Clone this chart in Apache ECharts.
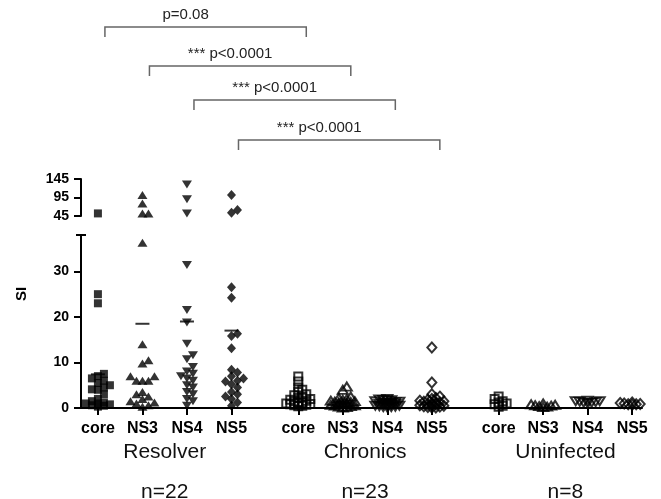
<!DOCTYPE html>
<html>
<head>
<meta charset="utf-8">
<script src="https://cdn.jsdelivr.net/npm/echarts@6/dist/echarts.min.js"></script>
<style>
html, body { margin: 0; background: #fff; }
#main { width: 661px; height: 499px; }
</style>
</head>
<body>
<div id="main"></div>
<script>
// categories and labels
const columns = ['core', 'NS3', 'NS4', 'NS5'];
const groups = ['Resolver', 'Chronics', 'Uninfected'];
const groupN = ['n=22', 'n=23', 'n=8'];
const yTicksLower = [0, 10, 20, 30];
const yTicksUpper = [45, 95, 145];

// SI values, one array per column
const resolverCore = [52, 25, 23, 4.1, 7.5, 7, 6.5, 6, 5.5, 5, 4.5, 4, 3, 2, 1.5, 1.2, 1, 1, 0.8, 0.6, 0.5, 0.3];
const resolverNS3 = [52, 52, 102, 79, 36.3, 14, 10.5, 9.8, 7, 7, 6, 6, 6, 3.5, 3, 2.5, 2, 1.5, 1.2, 1, 0.6, 0.3];
const resolverNS4 = [130, 90, 52, 31.4, 21.5, 18.8, 14.1, 11.6, 10.7, 9, 8, 7.5, 7, 6.5, 6, 5, 4.5, 3.5, 3, 2, 1.5, 0.5];
const resolverNS5 = [61, 54, 102, 26.5, 24.2, 16.3, 15.8, 13.1, 8.4, 7.8, 7, 6.5, 6, 5.8, 5.2, 4.5, 3.5, 3, 2.5, 2, 1.2, 0.5];
const chronicCore = [6.9, 5.8, 4.5, 4, 3.5, 3, 2.8, 2.5, 2.2, 2, 1.8, 1.6, 1.5, 1.3, 1.2, 1.1, 1, 0.9, 0.8, 0.7, 0.6, 0.5, 0.4];
const chronicNS3 = [4.7, 4.0, 2.5, 2.2, 2, 1.8, 1.6, 1.5, 1.4, 1.3, 1.2, 1.1, 1, 1, 0.9, 0.8, 0.7, 0.6, 0.5, 0.4, 0.3, 0.2, 0.1];
const chronicNS4 = [2, 1.9, 1.8, 1.7, 1.6, 1.5, 1.4, 1.3, 1.2, 1.1, 1, 1, 0.9, 0.8, 0.7, 0.6, 0.5, 0.5, 0.4, 0.3, 0.2, 0.2, 0.1];
const chronicNS5 = [13.3, 5.6, 3, 2.5, 2.2, 2, 1.8, 1.6, 1.5, 1.4, 1.2, 1.1, 1, 0.9, 0.8, 0.7, 0.6, 0.5, 0.4, 0.3, 0.2, 0.1, 0.1];
const uninfCore = [2.5, 2.0, 1.5, 1.2, 1.0, 0.8, 0.5, 0.3];
const uninfNS3 = [1.0, 0.8, 0.7, 0.6, 0.5, 0.4, 0.3, 0.2];
const uninfNS4 = [1.6, 1.5, 1.5, 1.4, 1.3, 1.2, 1.2, 1.0];
const uninfNS5 = [1.2, 1.1, 1.0, 1.0, 0.9, 0.8, 0.8, 0.7];
const resolverMeans = [7.4, 18.5, 19, 17];
const pLabels = ['p=0.08', '*** p<0.0001', '*** p<0.0001', '*** p<0.0001'];

const allColumns = [resolverCore, resolverNS3, resolverNS4, resolverNS5,
  chronicCore, chronicNS3, chronicNS4, chronicNS5,
  uninfCore, uninfNS3, uninfNS4, uninfNS5];

// layout
const colX = [1, 2, 3, 4, 5.5, 6.5, 7.5, 8.5, 10, 11, 12, 13];
const groupX = [2.5, 7, 11.5];
const LOWER_MAX = 38, UPPER_MIN = 45, UPPER_MAX = 145;
const X_MIN = 0.62, X_MAX = 13.22;
const FONT = '"Liberation Sans", Arial, sans-serif';

const symbols = [
  { symbol: 'rect', size: 8, rotate: 0 },
  { symbol: 'triangle', size: [10, 8], rotate: 0 },
  { symbol: 'triangle', size: [10, 8], rotate: 180 },
  { symbol: 'diamond', size: [9, 10], rotate: 0 }
];

const axisLine = { show: true, lineStyle: { color: '#000', width: 2 } };

const chart = echarts.init(document.getElementById('main'));

chart.setOption({
  animation: false,
  grid: [
    { left: 81, right: 19, top: 235, bottom: 91, outerBoundsMode: 'none', containLabel: false },
    { left: 81, right: 19, top: 179, height: 37, outerBoundsMode: 'none', containLabel: false }
  ],
  xAxis: [
    {
      type: 'value', gridIndex: 0, min: X_MIN, max: X_MAX,
      axisLine: axisLine,
      splitLine: { show: false },
      axisTick: { show: true, length: 7, customValues: colX, lineStyle: { color: '#000', width: 2 } },
      axisLabel: {
        customValues: colX, margin: 13,
        formatter: v => columns[colX.indexOf(v) % 4],
        color: '#000', fontWeight: 'bold', fontSize: 16, fontFamily: FONT
      }
    },
    {
      type: 'value', gridIndex: 0, position: 'bottom', min: X_MIN, max: X_MAX,
      axisLine: { show: false }, axisTick: { show: false }, splitLine: { show: false },
      axisLabel: {
        customValues: groupX, margin: 24, lineHeight: 40,
        formatter: v => groups[groupX.indexOf(v)] + '\n' + groupN[groupX.indexOf(v)],
        color: '#111', fontSize: 21, fontFamily: FONT
      }
    },
    {
      type: 'value', gridIndex: 1, min: X_MIN, max: X_MAX, show: false,
      splitLine: { show: false }
    }
  ],
  yAxis: [
    {
      type: 'value', gridIndex: 0, min: 0, max: LOWER_MAX,
      axisLine: axisLine, splitLine: { show: false },
      axisTick: { show: true, length: 7, customValues: yTicksLower, lineStyle: { color: '#000', width: 2 } },
      axisLabel: { customValues: yTicksLower, margin: 12, color: '#000', fontWeight: 'bold', fontSize: 14, fontFamily: FONT }
    },
    {
      type: 'value', gridIndex: 1, min: UPPER_MIN, max: UPPER_MAX,
      axisLine: axisLine, splitLine: { show: false },
      axisTick: { show: true, length: 7, customValues: yTicksUpper, lineStyle: { color: '#000', width: 2 } },
      axisLabel: { customValues: yTicksUpper, margin: 12, color: '#000', fontWeight: 'bold', fontSize: 14, fontFamily: FONT }
    }
  ],
  series: []
});

// pixel helpers through the axes
const pxX = v => chart.convertToPixel({ xAxisIndex: 0 }, v);
const pxYLow = v => chart.convertToPixel({ yAxisIndex: 0 }, v);
const pxYHigh = v => chart.convertToPixel({ yAxisIndex: 1 }, v);
const pxPerUnit = pxX(2) - pxX(1);

// simple beeswarm: shift points sideways so they don't sit on top of each other
function swarm(ys, step, minDy, maxK) {
  const order = ys.map((y, i) => i).sort((a, b) => ys[b] - ys[a]);
  const placed = [];
  const dx = [];
  order.forEach(i => {
    let best = 0, bestHits = Infinity;
    for (let k = 0; k <= 2 * maxK; k++) {
      const off = k === 0 ? 0 : (k % 2 ? 1 : -1) * Math.ceil(k / 2) * step;
      const hits = placed.filter(p => Math.abs(p.x - off) < step * 0.9 && Math.abs(p.y - ys[i]) < minDy).length;
      if (hits < bestHits) { best = off; bestHits = hits; }
      if (hits === 0) break;
    }
    placed.push({ x: best, y: ys[i] });
    dx[i] = best;
  });
  return dx;
}

const series = [];
allColumns.forEach((vals, c) => {
  const sym = symbols[c % 4];
  const filled = c < 4;
  const ys = vals.map(v => v > LOWER_MAX ? pxYHigh(v) : pxYLow(v));
  const dx = filled ? swarm(ys, 6, 6, 2) : swarm(ys, 4, 4, 3);
  const low = [], high = [];
  vals.forEach((v, i) => {
    const pt = [colX[c] + dx[i] / pxPerUnit, v];
    (v > LOWER_MAX ? high : low).push(pt);
  });
  const style = filled
    ? { color: '#000' }
    : { color: 'rgba(0,0,0,0)', borderColor: '#000', borderWidth: 2 };
  [[low, 0], [high, 1]].forEach(([data, g]) => {
    if (!data.length) return;
    series.push({
      type: 'scatter', xAxisIndex: g === 0 ? 0 : 2, yAxisIndex: g,
      symbol: sym.symbol, symbolSize: sym.size, symbolRotate: sym.rotate,
      itemStyle: style, data: data, silent: true
    });
  });
});

// mean bars for the resolver columns
series.push({
  type: 'scatter', xAxisIndex: 0, yAxisIndex: 0, z: 5,
  symbol: 'rect', symbolSize: [14, 2], itemStyle: { color: '#000' },
  data: resolverMeans.map((m, i) => [colX[i], m])
});

// significance brackets (resolver column -> matching chronics column)
const graphic = [];
const bracketY = [27, 66, 100, 140];
pLabels.forEach((txt, i) => {
  const x1 = pxX(colX[i]) + 7, x2 = pxX(colX[i + 4]) + 8, y = bracketY[i];
  graphic.push({
    type: 'polyline', silent: true,
    shape: { points: [[x1, y + 10], [x1, y], [x2, y], [x2, y + 10]] },
    style: { stroke: '#666', lineWidth: 1.5, fill: null }
  });
  graphic.push({
    type: 'text', silent: true, x: (x1 + x2) / 2 - 20, y: y - 12,
    style: { text: txt, font: '15px ' + FONT, fill: '#222', align: 'center', verticalAlign: 'middle' }
  });
});

// axis break cap at top of lower axis
const axX = pxX(X_MIN), capY = pxYLow(LOWER_MAX);
graphic.push({
  type: 'line', silent: true,
  shape: { x1: axX - 5, y1: capY, x2: axX + 5, y2: capY },
  style: { stroke: '#000', lineWidth: 2 }
});

// y axis title
graphic.push({
  type: 'text', silent: true, x: 22, y: 294, rotation: Math.PI / 2,
  style: { text: 'SI', font: 'bold 15px ' + FONT, fill: '#000', align: 'center', verticalAlign: 'middle' }
});

chart.setOption({ series: series, graphic: graphic });
</script>
</body>
</html>
